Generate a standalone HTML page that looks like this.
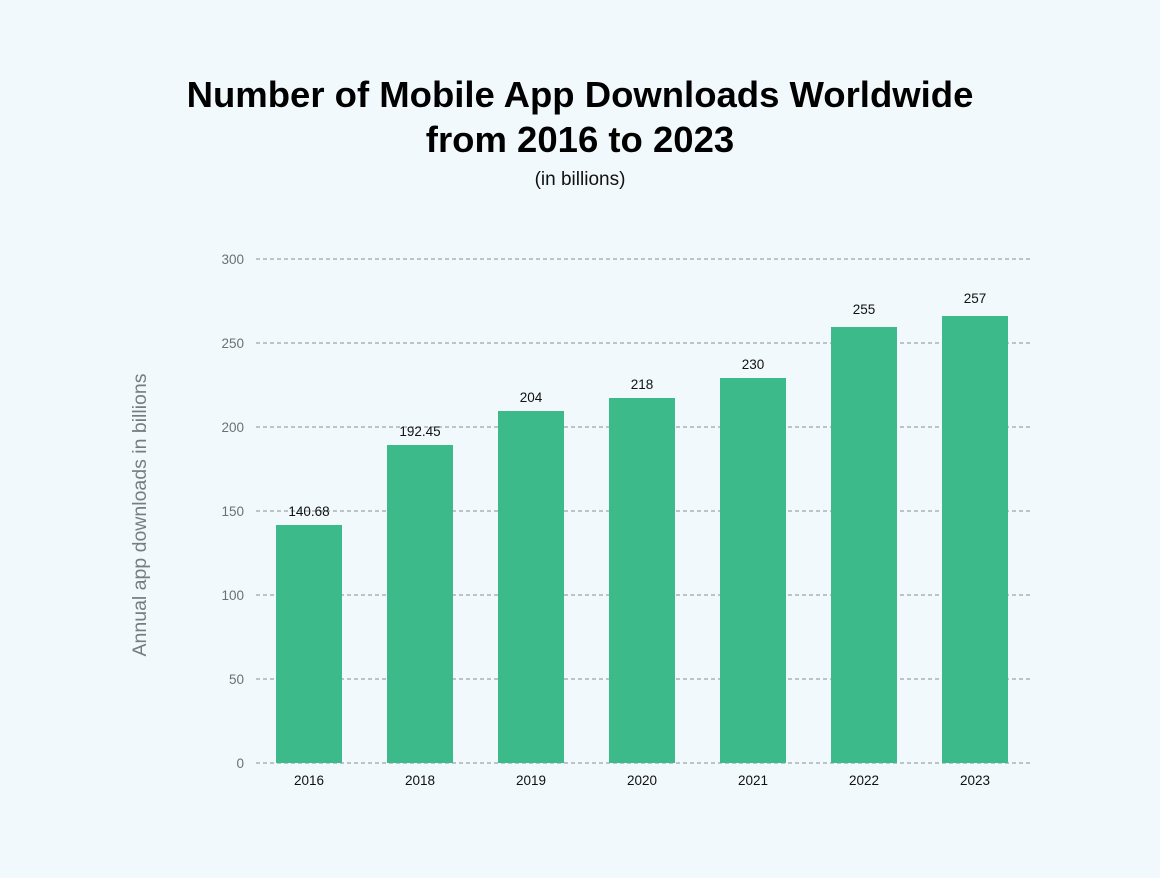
<!DOCTYPE html>
<html><head><meta charset="utf-8"><style>
html,body{margin:0;padding:0;background:#f2f9fc;}
svg{display:block}
</style></head><body>
<svg width="1160" height="878" xmlns="http://www.w3.org/2000/svg">
<rect width="1160" height="878" fill="#f2f9fc"/>
<g font-family="Liberation Sans, sans-serif" text-anchor="middle">
<text x="580" y="107" font-size="36.5" font-weight="bold" fill="#000">Number of Mobile App Downloads Worldwide</text>
<text x="580" y="152" font-size="36.5" font-weight="bold" fill="#000">from 2016 to 2023</text>
<text x="580" y="185" font-size="19" fill="#111">(in billions)</text>
</g>
<g stroke="#9aa4aa" stroke-width="1.3" stroke-dasharray="4 3">
<line x1="256" x2="1033" y1="259" y2="259"/><line x1="256" x2="1033" y1="343" y2="343"/>
<line x1="256" x2="1033" y1="427" y2="427"/><line x1="256" x2="1033" y1="511" y2="511"/>
<line x1="256" x2="1033" y1="595" y2="595"/><line x1="256" x2="1033" y1="679" y2="679"/>
<line x1="256" x2="1033" y1="763" y2="763"/>
</g>
<g font-family="Liberation Sans, sans-serif" font-size="13.5" fill="#6b7075" text-anchor="end">
<text x="244" y="264">300</text><text x="244" y="348">250</text><text x="244" y="432">200</text>
<text x="244" y="516">150</text><text x="244" y="600">100</text><text x="244" y="684">50</text><text x="244" y="768">0</text>
</g>
<text transform="translate(146,515) rotate(-90)" font-family="Liberation Sans, sans-serif" font-size="19.5" fill="#777c80" text-anchor="middle">Annual app downloads in billions</text>
<g fill="#3dba8a">
<rect x="276" y="525" width="66" height="238"/>
<rect x="387" y="445" width="66" height="318"/>
<rect x="498" y="411" width="66" height="352"/>
<rect x="609" y="398" width="66" height="365"/>
<rect x="720" y="378" width="66" height="385"/>
<rect x="831" y="327" width="66" height="436"/>
<rect x="942" y="316" width="66" height="447"/>
</g>
<g font-family="Liberation Sans, sans-serif" font-size="13.5" fill="#111" text-anchor="middle">
<text x="309" y="516">140.68</text><text x="420" y="436">192.45</text><text x="531" y="402">204</text>
<text x="642" y="389">218</text><text x="753" y="369">230</text><text x="864" y="314">255</text><text x="975" y="303">257</text>
<text x="309" y="785">2016</text><text x="420" y="785">2018</text><text x="531" y="785">2019</text>
<text x="642" y="785">2020</text><text x="753" y="785">2021</text><text x="864" y="785">2022</text><text x="975" y="785">2023</text>
</g>
</svg>
</body></html>
